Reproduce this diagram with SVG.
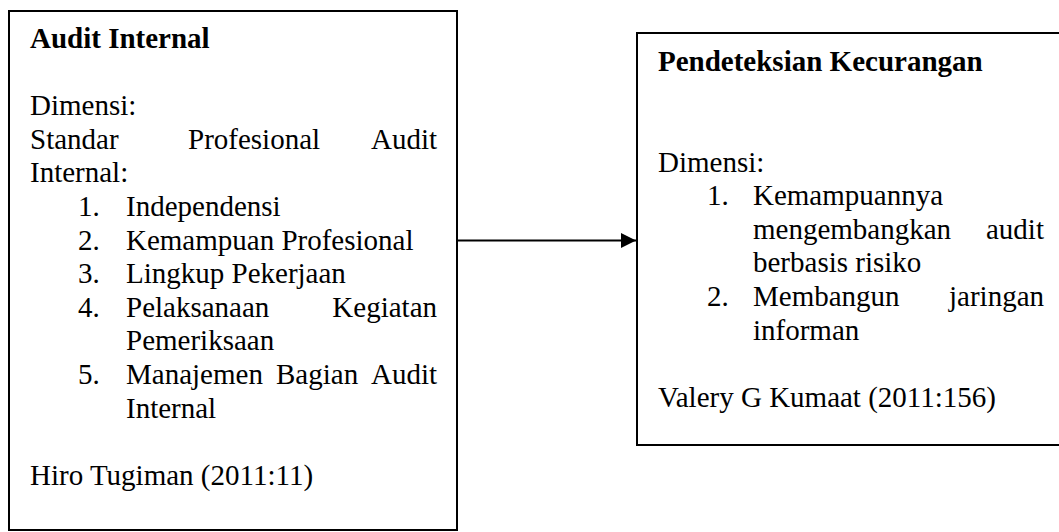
<svg xmlns="http://www.w3.org/2000/svg" width="1059" height="532" viewBox="0 0 1059 532">
<defs>
<style>
.box{fill:#fff;stroke:#000;stroke-width:2}
.t{font-family:"Liberation Serif","Times New Roman",serif;font-size:29px;fill:#000}
.b{font-weight:bold}
.e{text-anchor:end}
.conn{stroke:#000;stroke-width:2;fill:none}
</style>
<marker id="ah" markerWidth="16" markerHeight="16" refX="15" refY="7.5" orient="auto" markerUnits="userSpaceOnUse">
<path d="M0,0 L15,7.5 L0,15 Z" fill="#000"/>
</marker>
</defs>
<rect width="1059" height="532" fill="#fff"/>
<g id="node-audit-internal">
<rect class="box" x="9" y="11" width="448" height="519"/>
<text class="t b" x="30" y="48">Audit Internal</text>
<text class="t" x="30" y="115">Dimensi:</text>
<text class="t" x="30" y="149">Standar</text>
<text class="t" x="188" y="149">Profesional</text>
<text class="t e" x="437" y="149">Audit</text>
<text class="t" x="30" y="182">Internal:</text>
<text class="t" x="78" y="216">1.</text>
<text class="t" x="126" y="216">Independensi</text>
<text class="t" x="78" y="250">2.</text>
<text class="t" x="126" y="250">Kemampuan Profesional</text>
<text class="t" x="78" y="283">3.</text>
<text class="t" x="126" y="283">Lingkup Pekerjaan</text>
<text class="t" x="78" y="317">4.</text>
<text class="t" x="126" y="317">Pelaksanaan</text>
<text class="t e" x="437" y="317">Kegiatan</text>
<text class="t" x="126" y="350">Pemeriksaan</text>
<text class="t" x="78" y="384">5.</text>
<text class="t" x="126" y="384">Manajemen</text>
<text class="t" x="276" y="384">Bagian</text>
<text class="t e" x="437" y="384">Audit</text>
<text class="t" x="126" y="418">Internal</text>
<text class="t" x="30" y="485">Hiro Tugiman (2011:11)</text>
</g>
<g id="node-pendeteksian">
<rect class="box" x="637" y="33" width="430" height="412"/>
<text class="t b" x="658" y="71">Pendeteksian Kecurangan</text>
<text class="t" x="658" y="172">Dimensi:</text>
<text class="t" x="707" y="205">1.</text>
<text class="t" x="753" y="205">Kemampuannya</text>
<text class="t" x="753" y="239">mengembangkan</text>
<text class="t e" x="1044" y="239">audit</text>
<text class="t" x="753" y="272">berbasis risiko</text>
<text class="t" x="707" y="306">2.</text>
<text class="t" x="753" y="306">Membangun</text>
<text class="t e" x="1044" y="306">jaringan</text>
<text class="t" x="753" y="340">informan</text>
<text class="t" x="658" y="407">Valery G Kumaat (2011:156)</text>
</g>
<g id="connectors">
<line class="conn" x1="457" y1="240.5" x2="636" y2="240.5" marker-end="url(#ah)"/>
</g>
</svg>
